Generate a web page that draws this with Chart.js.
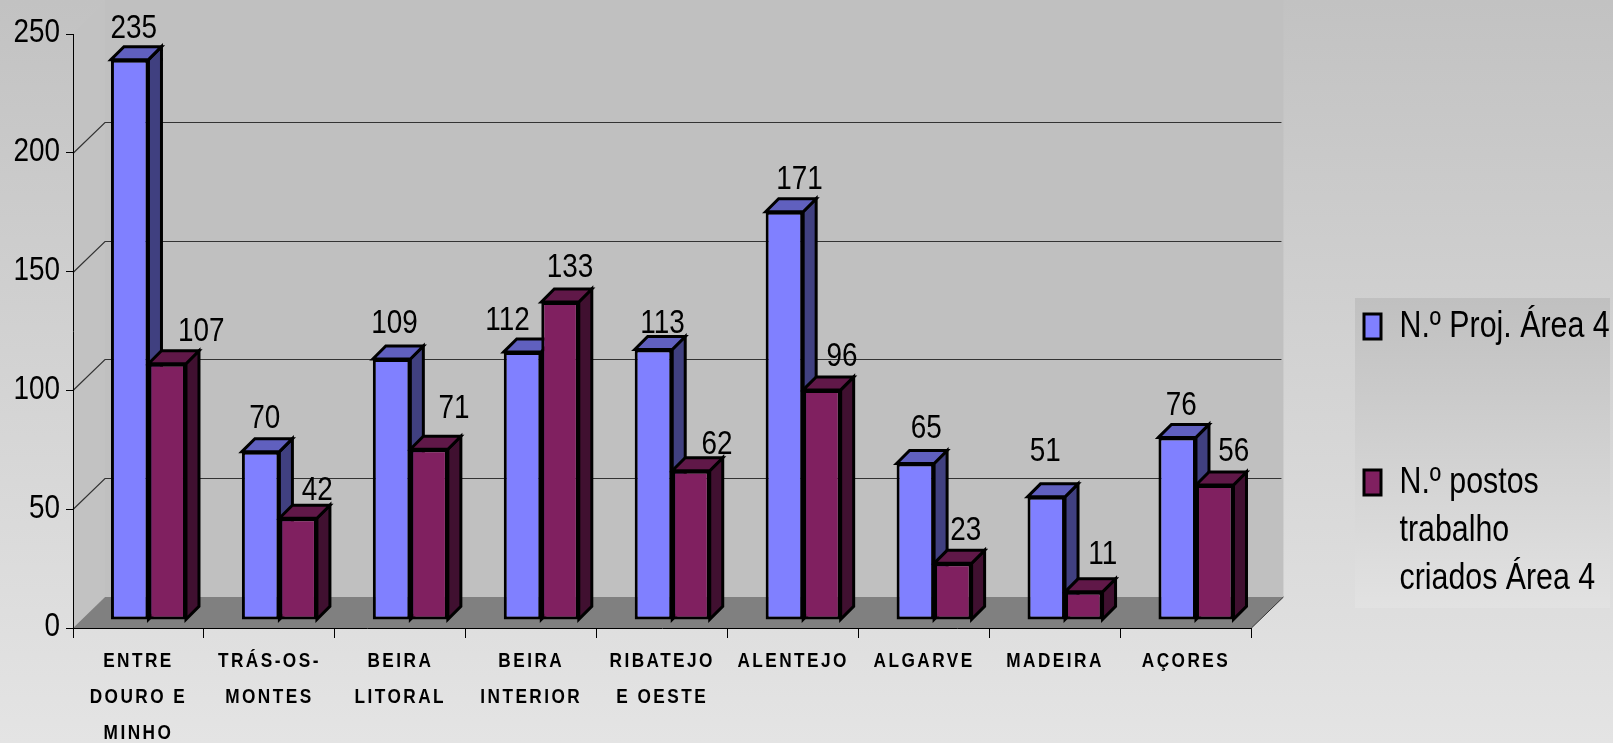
<!DOCTYPE html>
<html>
<head>
<meta charset="utf-8">
<style>
  html, body { margin: 0; padding: 0; background: #d4d4d4; }
  canvas { display: block; }
</style>
<script src="https://cdn.jsdelivr.net/npm/chart.js@4/dist/chart.umd.js"></script>
</head>
<body>
<canvas id="chart" width="1613" height="743"></canvas>
<script>
const categories = [
  ["ENTRE", "DOURO E", "MINHO"],
  ["TRÁS-OS-", "MONTES"],
  ["BEIRA", "LITORAL"],
  ["BEIRA", "INTERIOR"],
  ["RIBATEJO", "E OESTE"],
  "ALENTEJO",
  "ALGARVE",
  "MADEIRA",
  "AÇORES"
];
const projects = [235, 70, 109, 112, 113, 171, 65, 51, 76];
const jobs = [107, 42, 71, 133, 62, 96, 23, 11, 56];
// blank lines keep the second legend entry down where the original has it
const projectsLabel = ["N.º Proj. Área 4", "", ""];
const jobsLabel = ["N.º postos", "trabalho", "criados Área 4"];

const FONT = '"Liberation Sans", sans-serif';

// value labels were placed by hand in the original, so each one gets a nudge
const labelShiftX = [
  [4, 4, 3, -15, 9, 15, 11, -1, 4],
  [34, 19, 25, 10, 26, 20, 13, 19, 19]
];
const labelShiftY = [
  [-1, -3, -5, -1, 4, -2, -5, -15, -2],
  [-2, 2, -11, -4, 4, -3, -3, -7, -3]
];

// box depth of the plot, bars sit part way into it
const wallDx = 32, wallDy = 31;
const barDx = 10, barDy = 10;
const barDepth = 13;

const faces = [
  { top: "#6060bf", side: "#404080" },
  { top: "#601848", side: "#401030" }
];

// the source slide was squashed sideways and no narrow font is available,
// so squeeze every text draw. Bold text is the spaced out x axis.
const squeeze = 0.82;
const canvas = document.getElementById("chart");
const c2d = canvas.getContext("2d");
const rawFill = c2d.fillText.bind(c2d);
const rawMeasure = c2d.measureText.bind(c2d);
c2d.fillText = (text, x, y) => {
  c2d.save();
  c2d.letterSpacing = c2d.font.includes("bold") ? "3px" : "0px";
  c2d.translate(x, y);
  c2d.scale(squeeze, 1);
  rawFill(text, 0, 0);
  c2d.restore();
};
c2d.measureText = text => ({ width: rawMeasure(text).width * squeeze });

function poly(ctx, pts, fill, stroke, width) {
  ctx.beginPath();
  pts.forEach((p, i) => i ? ctx.lineTo(p[0], p[1]) : ctx.moveTo(p[0], p[1]));
  ctx.closePath();
  if (fill) { ctx.fillStyle = fill; ctx.fill(); }
  if (stroke) { ctx.strokeStyle = stroke; ctx.lineWidth = width; ctx.lineJoin = "miter"; ctx.stroke(); }
}

function drawFaces(chart, index) {
  const ctx = chart.ctx;
  const f = faces[index];
  chart.getDatasetMeta(index).data.forEach(el => {
    const p = el.getProps(["x", "y", "base", "width"], true);
    const l = p.x - p.width / 2, r = p.x + p.width / 2;
    poly(ctx, [[r, p.y], [r + barDepth, p.y - barDepth], [r + barDepth, p.base - barDepth], [r, p.base]], f.side, "#000", 3);
    poly(ctx, [[l, p.y], [l + barDepth, p.y - barDepth], [r + barDepth, p.y - barDepth], [r, p.y]], f.top, "#000", 3);
  });
}

const scenePlugin = {
  id: "scene",
  beforeDraw(chart) {
    const { ctx, width, height, chartArea: a, scales } = chart;
    ctx.save();
    // page
    let g = ctx.createLinearGradient(0, 0, 0, height);
    g.addColorStop(0, "#c2c2c2");
    g.addColorStop(1, "#e4e4e4");
    ctx.fillStyle = g;
    ctx.fillRect(0, 0, width, height);

    // legend panel
    g = ctx.createLinearGradient(0, 298, 0, 608);
    g.addColorStop(0, "#c0c0c0");
    g.addColorStop(1, "#e2e2e2");
    ctx.fillStyle = g;
    ctx.fillRect(1355, 298, 255, 310);

    // walls and floor
    const L = a.left, R = a.right, T = a.top, B = a.bottom;
    poly(ctx, [[L, T], [L + wallDx, T - wallDy], [L + wallDx, B - wallDy], [L, B]], "#c2c2c2");
    poly(ctx, [[L + wallDx, 0], [R + wallDx, 0], [R + wallDx, B - wallDy], [L + wallDx, B - wallDy]], "#c0c0c0");
    poly(ctx, [[L, B], [L + wallDx, B - wallDy], [R + wallDx, B - wallDy], [R, B]], "#808080");

    // grid runs up the side wall and along the back
    ctx.strokeStyle = "#333";
    ctx.lineWidth = 1.2;
    scales.y.ticks.forEach(t => {
      if (t.value === 0 || t.value === 250) return;
      const y = Math.round(scales.y.getPixelForValue(t.value)) + 0.5;
      ctx.beginPath();
      ctx.moveTo(L, y);
      ctx.lineTo(L + wallDx, y - wallDy);
      ctx.lineTo(R + wallDx - 2, y - wallDy);
      ctx.stroke();
    });
    ctx.lineWidth = 1;
    ctx.beginPath();
    ctx.moveTo(R, B);
    ctx.lineTo(R + wallDx, B - wallDy);
    ctx.stroke();
    ctx.restore();
  },
  beforeDatasetsDraw(chart) {
    chart.ctx.save();
    chart.ctx.translate(barDx, -barDy);
  },
  beforeDatasetDraw(chart, args) {
    // datasets paint last to first: all side faces go down before any front
    if (args.index === 1) {
      drawFaces(chart, 0);
      drawFaces(chart, 1);
    }
  },
  afterDatasetsDraw(chart) {
    const ctx = chart.ctx;
    ctx.restore();
    ctx.save();
    ctx.font = "34px " + FONT;
    ctx.fillStyle = "#000";
    ctx.textAlign = "center";
    ctx.textBaseline = "middle";
    chart.data.datasets.forEach((ds, i) => {
      chart.getDatasetMeta(i).data.forEach((el, j) => {
        const x = el.x + barDx + labelShiftX[i][j];
        const y = el.y - barDy - 30 + labelShiftY[i][j];
        ctx.fillText(String(ds.data[j]), x, y);
      });
    });
    ctx.restore();
  },
  afterLayout(chart) {
    // legend sits lower than the middle of the chart
    const l = chart.legend;
    const w = l.right - l.left;
    l.left = 1352;
    l.right = l.left + w;
    l.top = 296;
    l.bottom = 608;
  }
};

new Chart(canvas, {
  type: "bar",
  plugins: [scenePlugin],
  data: {
    labels: categories,
    datasets: [
      { label: projectsLabel, data: projects, backgroundColor: "#8080ff" },
      { label: jobsLabel, data: jobs, backgroundColor: "#802060" }
    ]
  },
  options: {
    responsive: false,
    animation: false,
    devicePixelRatio: 1,
    layout: { padding: { top: 34, right: 3, left: 0, bottom: 0 } },
    datasets: {
      bar: {
        barPercentage: 1,
        categoryPercentage: 0.573,
        borderColor: "#000",
        borderWidth: 3,
        borderSkipped: false,
        base: -0.6,
        clip: false
      }
    },
    plugins: {
      tooltip: { enabled: false },
      legend: {
        position: "right",
        align: "start",
        onClick: null,
        labels: {
          color: "#000",
          font: { family: FONT, size: 37, lineHeight: 1.297 },
          boxWidth: 17,
          boxHeight: 25,
          padding: 12,
          generateLabels(chart) {
            return chart.data.datasets.map((ds, i) => ({
              text: ds.label,
              fillStyle: ds.backgroundColor,
              strokeStyle: "#000",
              lineWidth: 3,
              datasetIndex: i
            }));
          }
        }
      }
    },
    scales: {
      x: {
        grid: { offset: true, drawOnChartArea: false, drawTicks: true, tickLength: 10, color: "#000" },
        border: { color: "#000" },
        afterFit(s) { s.height = 115; },
        ticks: {
          autoSkip: false,
          maxRotation: 0,
          minRotation: 0,
          padding: 5,
          color: "#000",
          font: { family: FONT, size: 21, weight: "bold", lineHeight: 1.71 }
        }
      },
      y: {
        min: 0,
        max: 250,
        afterFit(s) { s.width = 73; },
        grid: { drawOnChartArea: false, drawTicks: true, tickLength: 7, color: "#000" },
        border: { color: "#000" },
        ticks: {
          stepSize: 50,
          padding: 6,
          labelOffset: -1,
          color: "#000",
          font: { family: FONT, size: 34 }
        }
      },
      // empty axis, only holds the gap between the plot and the legend
      gap: {
        position: "right",
        grid: { display: false },
        border: { display: false },
        ticks: { display: false },
        afterFit(s) { s.width = 91; }
      }
    }
  }
});
</script>
</body>
</html>
